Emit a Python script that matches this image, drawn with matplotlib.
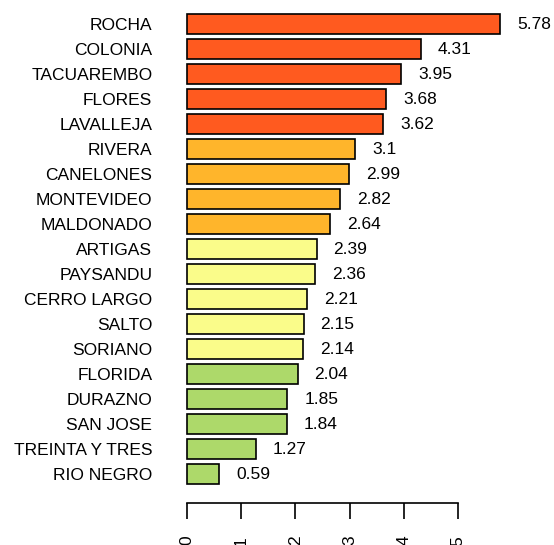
import matplotlib
matplotlib.use("Agg")
import matplotlib.pyplot as plt
from matplotlib.transforms import offset_copy

departamentos = ["ROCHA", "COLONIA", "TACUAREMBO", "FLORES", "LAVALLEJA",
                 "RIVERA", "CANELONES", "MONTEVIDEO", "MALDONADO", "ARTIGAS",
                 "PAYSANDU", "CERRO LARGO", "SALTO", "SORIANO", "FLORIDA",
                 "DURAZNO", "SAN JOSE", "TREINTA Y TRES", "RIO NEGRO"]
valores = [5.78, 4.31, 3.95, 3.68, 3.62, 3.1, 2.99, 2.82, 2.64, 2.39,
           2.36, 2.21, 2.15, 2.14, 2.04, 1.85, 1.84, 1.27, 0.59]
grupo = [0, 0, 0, 0, 0, 1, 1, 1, 1, 2, 2, 2, 2, 2, 3, 3, 3, 3, 3]
paleta = ["#FF5A1F", "#FFB52B", "#FAFC8A", "#ADD96A"]
ticks_x = [0, 1, 2, 3, 4, 5]

plt.rcParams['font.family'] = ['Liberation Sans', 'DejaVu Sans']

W, H = 554, 545
fig = plt.figure(figsize=(W / 100, H / 100), dpi=100)
ax = fig.add_axes([187 / W, 1 - 486.5 / H, 271 / W, 475 / H])

ys = list(range(len(valores)))
colores = [paleta[g] for g in grupo]
ax.barh(ys, valores, height=0.8, color=colores, edgecolor="black",
        linewidth=1.2, clip_on=False)
ax.set_xlim(0, 5)
ax.set_ylim(len(valores) - 0.5, -0.5)

ax.set_yticks(ys)
ax.set_yticklabels(departamentos, fontsize=12.5)
ax.tick_params(axis="y", length=0, pad=25)

trans = offset_copy(ax.transData, fig=fig, x=17, y=0, units="dots")
for y, v in zip(ys, valores):
    ax.text(v, y, f"{v:g}", transform=trans, ha="left", va="center",
            fontsize=12.5, clip_on=False)

for s in ["top", "right", "left"]:
    ax.spines[s].set_visible(False)
ax.spines["bottom"].set_position(("outward", 12))
ax.spines["bottom"].set_bounds(0, 5)
ax.spines["bottom"].set_linewidth(1.2)
ax.set_xticks(ticks_x)
ax.set_xticklabels([str(t) for t in ticks_x], rotation=90, fontsize=12.5)
ax.tick_params(axis="x", length=11.5, width=1.2, pad=12)

fig.savefig("out.png", dpi=100)
